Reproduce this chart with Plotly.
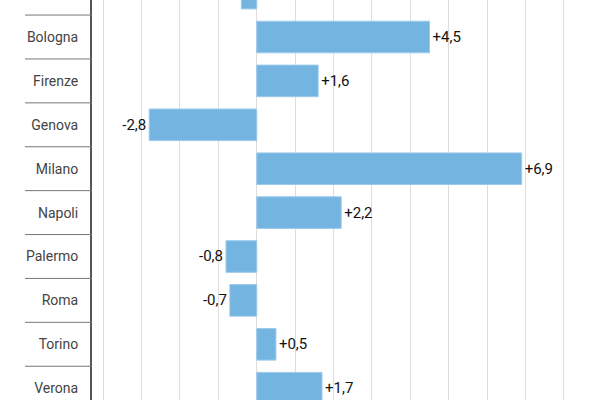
import plotly.graph_objects as go

cities = ["Bari", "Bologna", "Firenze", "Genova", "Milano", "Napoli",
          "Palermo", "Roma", "Torino", "Verona"]
changes = [-0.4, 4.5, 1.6, -2.8, 6.9, 2.2, -0.8, -0.7, 0.5, 1.7]
labels = [f"{v:+.1f}".replace(".", ",") for v in changes]

fig = go.Figure(go.Bar(
    x=changes, y=cities, orientation="h",
    marker=dict(color="#74b4e1", line=dict(width=1, color="#9ccaea")),
    text=labels, textposition="outside",
    textfont=dict(family="Roboto", size=15, color="#111111"),
    cliponaxis=True,
))

plot_left = 92
plot_w = 600 - plot_left
shapes = []
for i in range(len(cities) - 1):
    shapes.append(dict(type="line", xref="paper", yref="y",
                       x0=(25 - plot_left) / plot_w, x1=0,
                       y0=i + 0.5, y1=i + 0.5,
                       line=dict(color="#777777", width=1)))

fig.update_layout(
    width=600, height=400,
    margin=dict(l=plot_left, r=0, t=0, b=0),
    paper_bgcolor="white", plot_bgcolor="white",
    bargap=0.28, showlegend=False,
    shapes=shapes,
    xaxis=dict(range=[-4.29, 8.94], dtick=1, tick0=0, showticklabels=False,
               showgrid=True, gridcolor="#dddddd", gridwidth=1,
               zeroline=True, zerolinecolor="#dddddd", zerolinewidth=1,
               showline=False),
    yaxis=dict(range=[9.269, 0.157], type="category",
               showline=True, linecolor="#555555", linewidth=2,
               ticks="", ticklabelstandoff=9,
               tickfont=dict(family="Roboto", size=14, color="#444444"),
               showgrid=False),
)

fig.write_html("out.html", config={"displayModeBar": False},
               post_script="document.body.style.margin='0';")
